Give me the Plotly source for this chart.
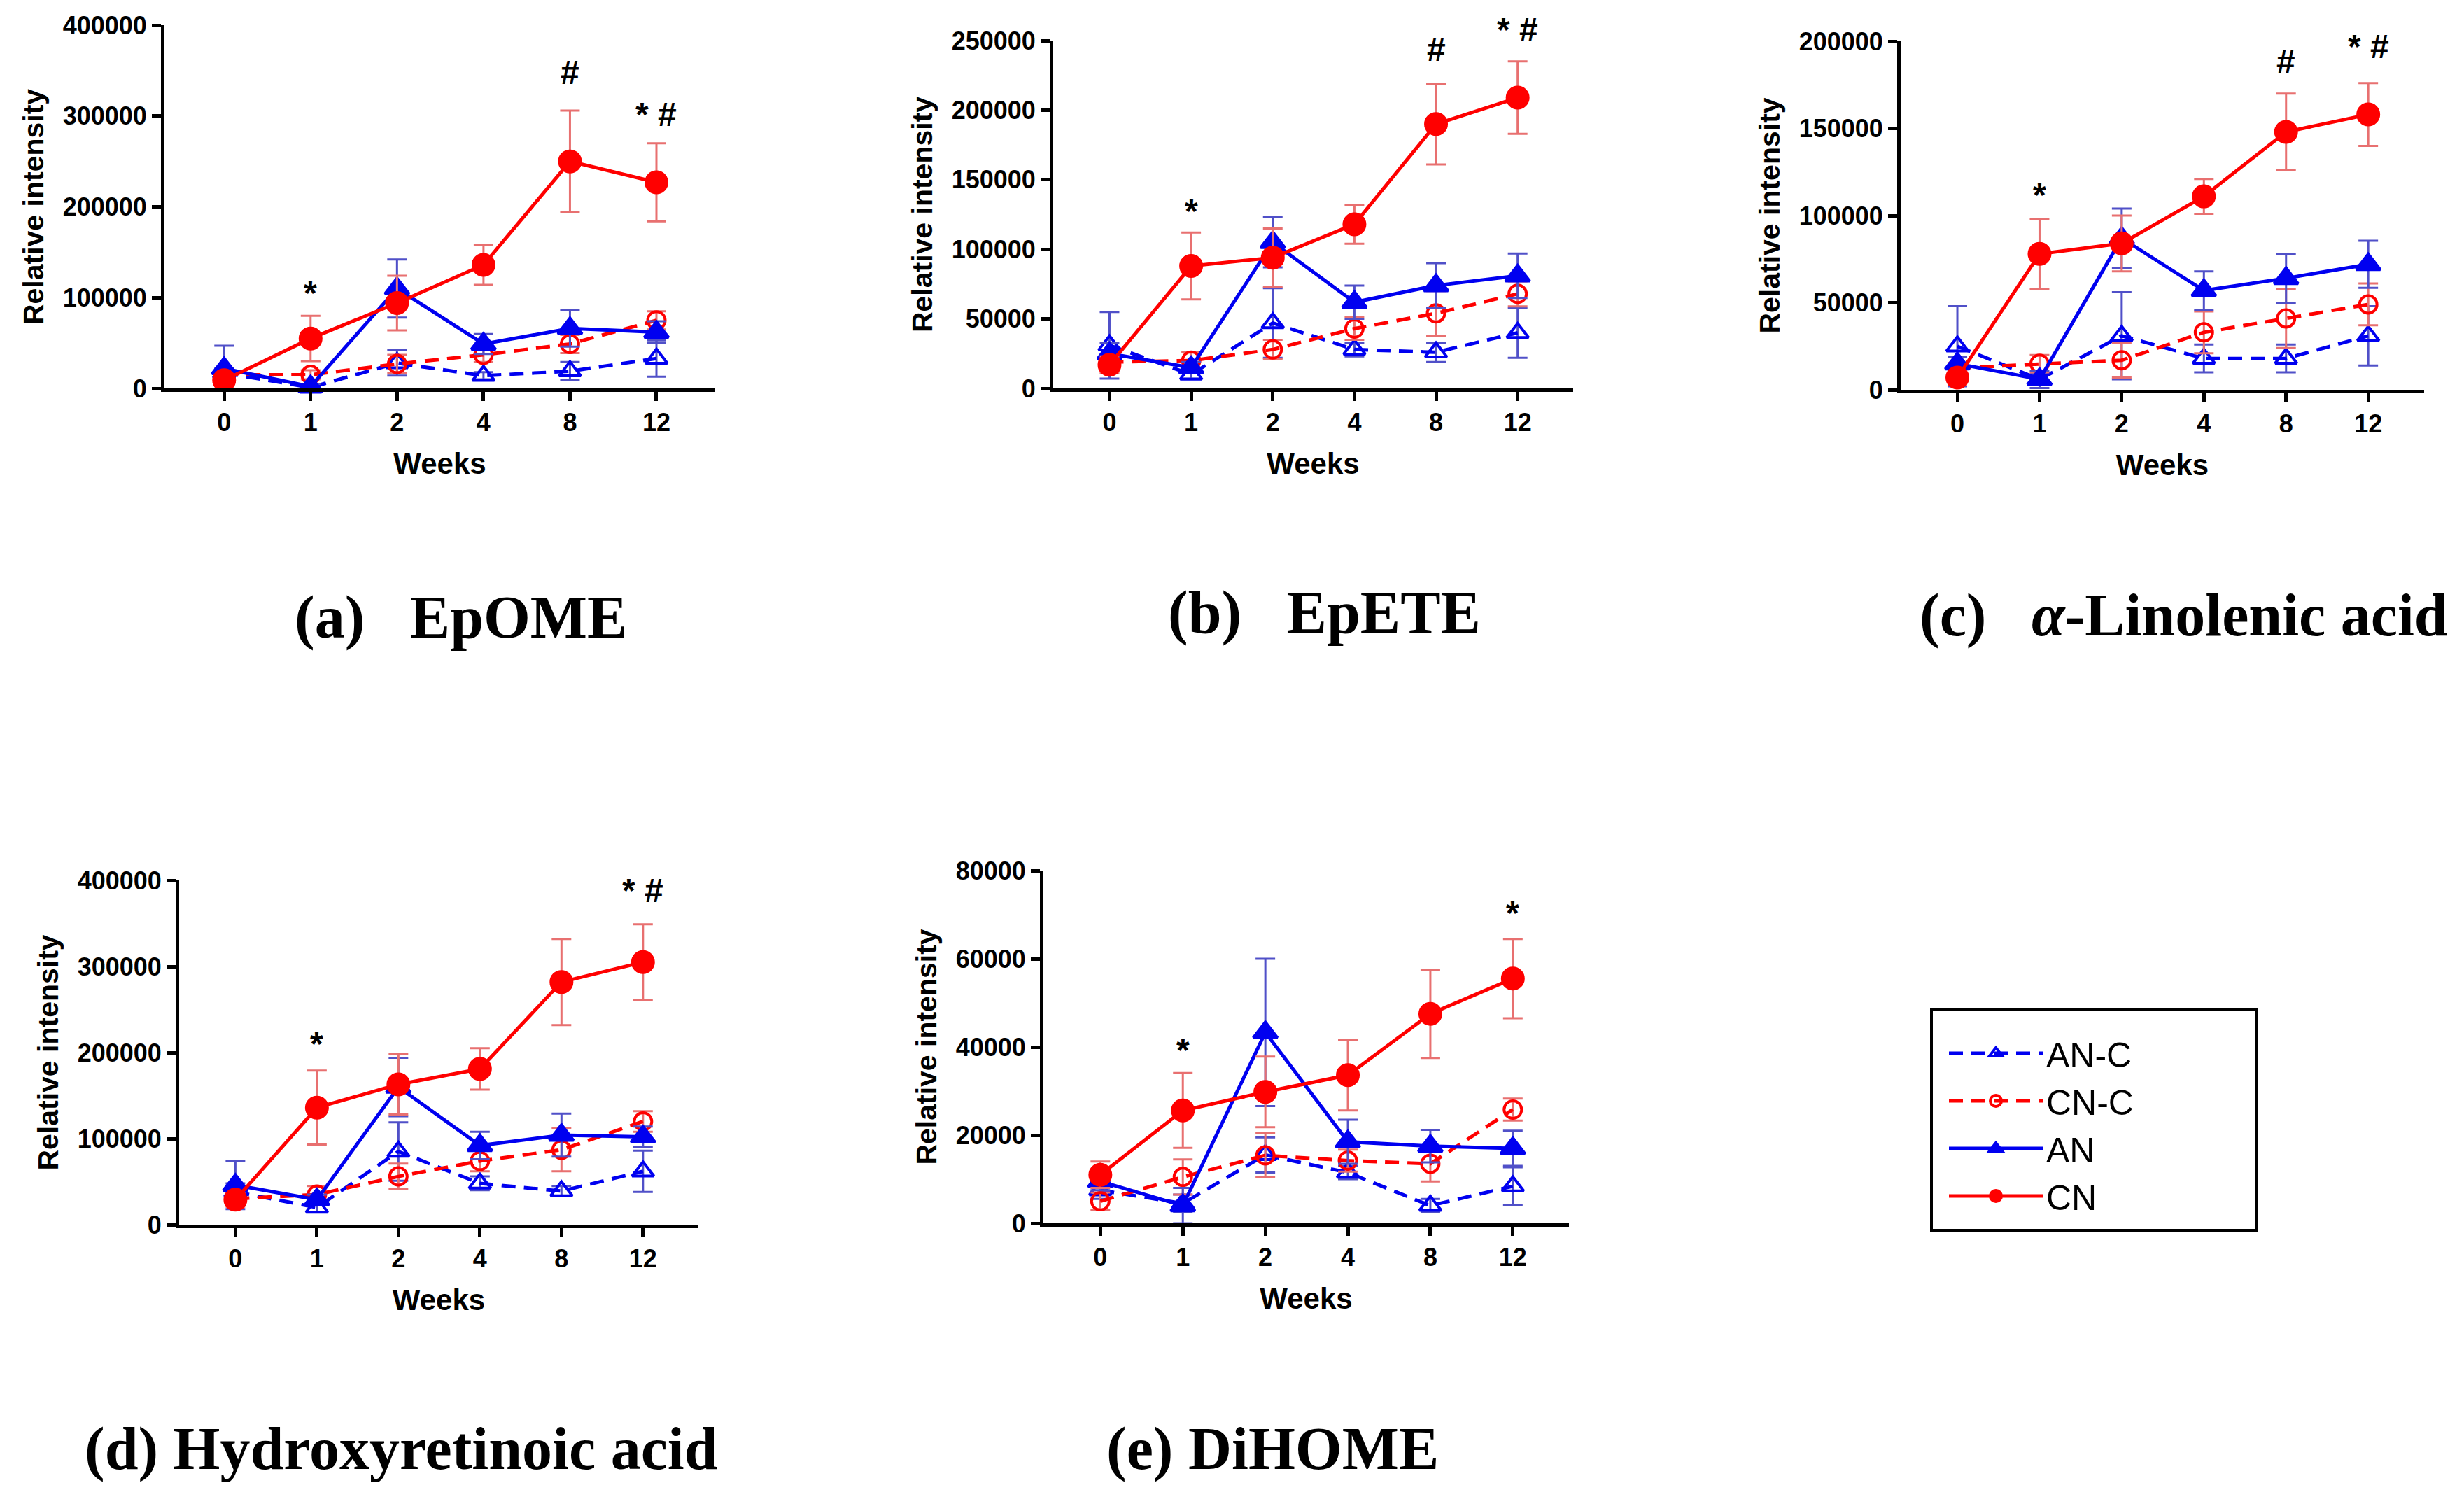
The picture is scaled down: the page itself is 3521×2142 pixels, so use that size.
import plotly.graph_objects as go

W, H = 3521, 2142
Y_OFF = 10  # page body margin pushes the figure down a little

# ----------------------------
# data
# ----------------------------
weeks = ["0", "1", "2", "4", "8", "12"]
groups = ["AN-C", "CN-C", "AN", "CN"]

# (a) EpOME
epome_anc = [17000, 1000, 28000, 14000, 19000, 33000]
epome_anc_err = [5000, 2000, 14000, 4000, 10000, 20000]
epome_cnc = [15000, 15000, 27000, 37000, 49000, 75000]
epome_cnc_err = [4000, 5000, 10000, 8000, 10000, 10000]
epome_an = [22000, 2000, 110000, 49000, 66000, 62000]
epome_an_err = [25000, 3000, 32000, 11000, 20000, 12000]
epome_cn = [9000, 55000, 94000, 136000, 250000, 227000]
epome_cn_err = [5000, 25000, 30000, 22000, 56000, 43000]

# (b) EpETE
epete_anc = [31000, 10000, 47000, 28000, 26000, 40000]
epete_anc_err = [24000, 3000, 25000, 5000, 7000, 18000]
epete_cnc = [19000, 20000, 28000, 43000, 54000, 68000]
epete_cnc_err = [5000, 6000, 7000, 8000, 16000, 9000]
epete_an = [25000, 15000, 105000, 62000, 74000, 81000]
epete_an_err = [8000, 4000, 18000, 12000, 16000, 16000]
epete_cn = [17000, 88000, 94000, 118000, 190000, 209000]
epete_cn_err = [6000, 24000, 21000, 14000, 29000, 26000]

# (c) alpha-linolenic acid
ala_anc = [25000, 6000, 31000, 18000, 18000, 31000]
ala_anc_err = [23000, 3000, 25000, 8000, 8000, 17000]
ala_cnc = [12500, 15000, 17000, 33000, 41000, 49000]
ala_cnc_err = [3000, 5000, 10000, 12000, 17000, 12000]
ala_an = [15000, 6000, 87000, 57000, 64000, 72000]
ala_an_err = [4000, 5000, 17000, 11000, 14000, 13500]
ala_cn = [7000, 78000, 84000, 111000, 148000, 158000]
ala_cn_err = [4000, 20000, 16000, 10000, 22000, 18000]

# (d) hydroxyretinoic acid
hra_anc = [38000, 20000, 85000, 48000, 39000, 62000]
hra_anc_err = [10000, 5000, 34000, 8000, 6000, 24000]
hra_cnc = [30000, 35000, 56000, 74000, 87000, 120000]
hra_cnc_err = [6000, 10000, 15000, 12000, 25000, 12000]
hra_an = [46000, 29000, 160000, 92000, 104000, 102000]
hra_an_err = [28000, 6000, 34000, 16000, 25000, 12000]
hra_cn = [29000, 136000, 163000, 181000, 282000, 305000]
hra_cn_err = [8000, 43000, 35000, 24000, 50000, 44000]

# (e) DiHOME
dihome_anc = [7500, 4500, 15500, 11500, 4000, 8400]
dihome_anc_err = [2000, 2000, 4000, 1500, 1500, 4300]
dihome_cnc = [5000, 10500, 15400, 14200, 13500, 25800]
dihome_cnc_err = [2000, 4000, 5000, 2500, 4000, 2500]
dihome_an = [9500, 4000, 43300, 18500, 17500, 17000]
dihome_an_err = [2000, 4000, 16700, 5000, 3700, 4000]
dihome_cn = [11000, 25600, 29800, 33600, 47500, 55500]
dihome_cn_err = [3000, 8500, 8000, 8000, 10000, 9000]

# significance marks: (week, y, text)
epome_sig = [("1", 113000, "*"), ("8", 348000, "#"), ("12", 302000, "* #")]
epete_sig = [("1", 132600, "*"), ("8", 243800, "#"), ("12", 257600, "* #")]
ala_sig = [("1", 116000, "*"), ("8", 188000, "#"), ("12", 197000, "* #")]
hra_sig = [("1", 218000, "*"), ("12", 388000, "* #")]
dihome_sig = [("1", 40900, "*"), ("12", 72000, "*")]


def fx(px):
    return px / W


def fy(px):
    return 1 - (px - Y_OFF) / H


# ----------------------------
# panel layout (pixel boxes: y-axis x, x-axis end, top tick y, zero y)
# ----------------------------
panels = [
    dict(title="(a)\u00a0\u00a0\u00a0EpOME", tpos=(650, 884), ymax=400000, dtick=100000,
         box=(227, 1014, 38, 557),
         series=[(epome_anc, epome_anc_err), (epome_cnc, epome_cnc_err),
                 (epome_an, epome_an_err), (epome_cn, epome_cn_err)], sig=epome_sig),
    dict(title="(b)\u00a0\u00a0\u00a0EpETE", tpos=(1885, 877), ymax=250000, dtick=50000,
         box=(1497, 2240, 60, 557),
         series=[(epete_anc, epete_anc_err), (epete_cnc, epete_cnc_err),
                 (epete_an, epete_an_err), (epete_cn, epete_cn_err)], sig=epete_sig),
    dict(title="(c)\u00a0\u00a0\u00a0<i>\u03b1</i>-Linolenic acid", tpos=(3112, 881), ymax=200000, dtick=50000,
         box=(2708, 3456, 61, 559),
         series=[(ala_anc, ala_anc_err), (ala_cnc, ala_cnc_err),
                 (ala_an, ala_an_err), (ala_cn, ala_cn_err)], sig=ala_sig),
    dict(title="(d) Hydroxyretinoic acid", tpos=(565, 2072), ymax=400000, dtick=100000,
         box=(248, 990, 1260, 1752),
         series=[(hra_anc, hra_anc_err), (hra_cnc, hra_cnc_err),
                 (hra_an, hra_an_err), (hra_cn, hra_cn_err)], sig=hra_sig),
    dict(title="(e) DiHOME", tpos=(1810, 2072), ymax=80000, dtick=20000,
         box=(1483, 2234, 1246, 1750),
         series=[(dihome_anc, dihome_anc_err), (dihome_cnc, dihome_cnc_err),
                 (dihome_an, dihome_an_err), (dihome_cn, dihome_cn_err)], sig=dihome_sig),
]

RED = "#ff0000"
BLUE = "#0000f0"
RED_ERR = "#e87070"
BLUE_ERR = "#5050c8"
DASH = "20px,12px"

styles = {
    "AN-C": dict(color=BLUE, err=BLUE_ERR, dash=DASH, symbol="triangle-up-open", size=27),
    "CN-C": dict(color=RED, err=RED_ERR, dash=DASH, symbol="circle-open", size=25),
    "AN": dict(color=BLUE, err=BLUE_ERR, dash="solid", symbol="triangle-up", size=30),
    "CN": dict(color=RED, err=RED_ERR, dash="solid", symbol="circle", size=30),
}

SANS = "Liberation Sans, Arial, sans-serif"
SERIF = "Liberation Serif, Times New Roman, serif"

fig = go.Figure()
annotations = []
layout_axes = {}

for i, p in enumerate(panels, start=1):
    sfx = "" if i == 1 else str(i)
    xa, ya = "x" + sfx, "y" + sfx
    x0, x1, ytop, ybot = p["box"]

    for name, (vals, errs) in zip(groups, p["series"]):
        st = styles[name]
        fig.add_trace(go.Scatter(
            x=weeks, y=vals, xaxis=xa, yaxis=ya,
            name=name, legendgroup=name, showlegend=(i == 1),
            mode="lines+markers", cliponaxis=False,
            line=dict(color=st["color"], width=5, dash=st["dash"]),
            marker=dict(symbol=st["symbol"], size=st["size"], color=st["color"],
                        line=dict(color=st["color"], width=4)),
            error_y=dict(type="data", array=errs, visible=True,
                         color=st["err"], thickness=3, width=14),
        ))

    axis_font = dict(family=SANS, size=36, color="black", weight="bold")
    layout_axes["xaxis" + sfx] = dict(
        domain=[fx(x0), fx(x1)], anchor=ya, type="category",
        categoryorder="array", categoryarray=weeks,
        range=[-0.69, 5.68], showgrid=False, zeroline=False, automargin=False,
        showline=True, linecolor="black", linewidth=5,
        ticks="outside", ticklen=13, tickwidth=5, tickcolor="black",
        tickfont=axis_font,
        title=dict(text="Weeks", font=dict(family=SANS, size=42, color="black", weight="bold"),
                   standoff=26),
    )
    layout_axes["yaxis" + sfx] = dict(
        domain=[fy(ybot), fy(ytop)], anchor=xa,
        range=[0, p["ymax"]], dtick=p["dtick"], tickformat="d",
        showgrid=False, zeroline=False, automargin=False,
        showline=True, linecolor="black", linewidth=5,
        ticks="outside", ticklen=13, tickwidth=5, tickcolor="black",
        tickfont=axis_font,
        title=dict(text="Relative intensity",
                   font=dict(family=SANS, size=41, color="black", weight="bold"),
                   standoff=16),
    )

    # significance marks: y given as a fraction of the axis so marks above the top tick still show
    for wk, yv, txt in p["sig"]:
        annotations.append(dict(
            x=weeks.index(wk), y=yv / p["ymax"], xref=xa, yref=ya + " domain",
            text=txt, showarrow=False,
            xanchor="center", yanchor="middle", yshift=-10 if txt == "*" else 0,
            font=dict(family=SANS, size=48, color="black", weight="bold"),
        ))

    tx, ty = p["tpos"]
    annotations.append(dict(
        x=fx(tx), y=fy(ty), xref="paper", yref="paper", text=p["title"],
        showarrow=False, xanchor="center", yanchor="middle",
        font=dict(family=SERIF, size=86, color="black", weight="bold"),
    ))

fig.update_layout(
    width=W, height=H,
    margin=dict(l=0, r=0, t=0, b=0),
    paper_bgcolor="white", plot_bgcolor="white",
    annotations=annotations,
    showlegend=True,
    legend=dict(
        x=fx(2772), y=fy(1468), xanchor="left", yanchor="top",
        font=dict(family=SANS, size=50, color="black"),
        itemwidth=134, bgcolor="rgba(0,0,0,0)", borderwidth=0,
        traceorder="normal",
    ),
    shapes=[dict(type="rect", xref="paper", yref="paper",
                 x0=fx(2752), x1=fx(3216), y0=fy(1760), y1=fy(1444),
                 line=dict(color="black", width=4), fillcolor="rgba(0,0,0,0)")],
    **layout_axes,
)

fig.write_html("out.html")
